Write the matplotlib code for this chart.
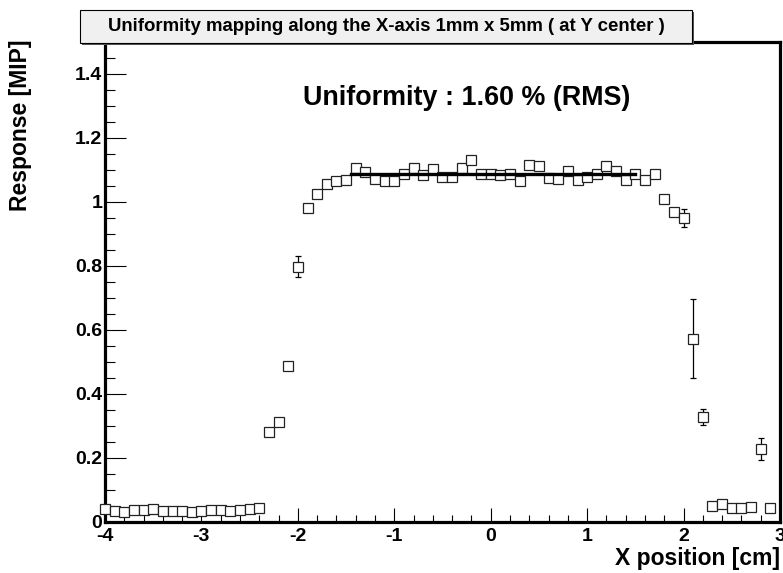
import numpy as np
import matplotlib.pyplot as plt
from matplotlib.ticker import MultipleLocator, FixedLocator
from matplotlib.patches import Rectangle

plt.rcParams['font.family'] = ['Liberation Sans', 'DejaVu Sans']
plt.rcParams['font.weight'] = 'bold'

# scan positions (cm) and mean response (MIP) at each step
x_pos = np.round(np.arange(-4.0, 2.95, 0.1), 2)
response = [
    0.040, 0.034, 0.031, 0.037, 0.038, 0.040, 0.034, 0.034, 0.034, 0.031,
    0.034, 0.037, 0.038, 0.033, 0.037, 0.041, 0.043,
    0.281, 0.311, 0.489, 0.798,
    0.982, 1.026, 1.055, 1.067, 1.068, 1.105, 1.093, 1.071, 1.066, 1.065,
    1.088, 1.106, 1.084, 1.103, 1.078, 1.078, 1.106, 1.132, 1.089, 1.088,
    1.084, 1.089, 1.065, 1.115, 1.113, 1.074, 1.071, 1.096, 1.070, 1.078,
    1.087, 1.113, 1.096, 1.068, 1.089, 1.070, 1.086,
    1.008, 0.969, 0.950, 0.573, 0.329,
    0.049, 0.057, 0.045, 0.045, 0.047, 0.228, 0.045,
]
# statistical errors (most are hidden under the marker)
err = np.full(len(response), 0.004)
err_big = {-2.0: 0.032, 1.8: 0.012, 1.9: 0.011, 2.0: 0.029, 2.1: 0.124, 2.2: 0.025, 2.8: 0.035}
for xv, ev in err_big.items():
    err[np.argmin(np.abs(x_pos - xv))] = ev

fit_range = (-1.45, 1.5)
fit_level = 1.088
rms_text = 'Uniformity : 1.60 % (RMS)'
title = 'Uniformity mapping along the X-axis 1mm x 5mm ( at Y center )'

fig = plt.figure(figsize=(7.83, 5.73), dpi=100)
ax = fig.add_axes([105/783, 51/573, 675/783, 480/573])

ax.errorbar(x_pos, response, yerr=err, fmt='none', ecolor='black',
            elinewidth=0.9, capsize=2.2, capthick=0.9, zorder=2)
ax.plot(x_pos, response, 's', ms=7.2, mfc='white', mec='#222222', mew=0.9,
        zorder=3, clip_on=False)
ax.plot(fit_range, [fit_level, fit_level], color='black', lw=2.4, zorder=4)

ax.set_xlim(-4, 3)
ax.set_ylim(0, 1.5)

ax.xaxis.set_major_locator(FixedLocator([-4, -3, -2, -1, 0, 1, 2, 3]))
ax.xaxis.set_minor_locator(MultipleLocator(0.2))
ax.yaxis.set_major_locator(FixedLocator([0, 0.2, 0.4, 0.6, 0.8, 1, 1.2, 1.4]))
ax.yaxis.set_minor_locator(MultipleLocator(0.05))
ax.set_xticklabels(['-4', '-3', '-2', '-1', '0', '1', '2', '3'])
ax.set_yticklabels(['0', '0.2', '0.4', '0.6', '0.8', '1', '1.2', '1.4'])

ax.tick_params(axis='both', which='both', direction='in', width=0.8,
               labelsize=14, top=False, right=False)
ax.tick_params(axis='x', which='major', length=10, pad=4)
ax.tick_params(axis='x', which='minor', length=5)
ax.tick_params(axis='y', which='major', length=15, pad=2)
ax.tick_params(axis='y', which='minor', length=7.5)
for s in ax.spines.values():
    s.set_linewidth(2.3)

ax.set_xlabel('X position [cm]', fontsize=16.5, fontweight='bold')
ax.xaxis.set_label_coords(1.0, -0.052)
ax.xaxis.label.set_ha('right')
ax.set_ylabel('Response [MIP]', fontsize=16.5, fontweight='bold')
ax.yaxis.set_label_coords(-0.142, 1.005)
ax.yaxis.label.set_va('top')
ax.yaxis.label.set_ha('right')

fig.text(467/783, 1 - 98/573, rms_text, fontsize=19.4, fontweight='bold',
         ha='center', va='center')

# title pave with a small drop shadow
fig.patches.append(Rectangle((82/783, 1 - 45/573), 612/783, 33/573,
                             transform=fig.transFigure, facecolor='#555555',
                             edgecolor='none', zorder=5))
fig.patches.append(Rectangle((80/783, 1 - 43/573), 612/783, 33/573,
                             transform=fig.transFigure, facecolor='#f0f0f0',
                             edgecolor='black', linewidth=0.8, zorder=6))
fig.text(386/783, 1 - 26.5/573, title, fontsize=13.4, fontweight='bold',
         ha='center', va='center', zorder=7)

fig.savefig('out.png', dpi=100)
